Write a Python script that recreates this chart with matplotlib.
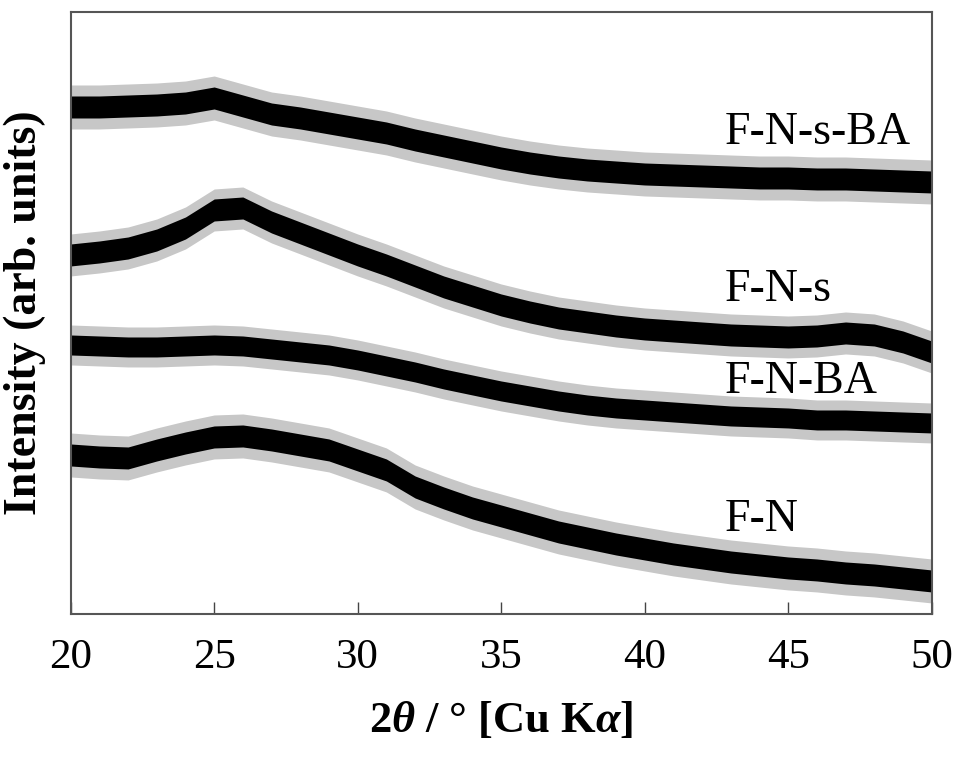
import numpy as np
from matplotlib import pyplot as plt

plt.rcParams['font.family'] = ['Liberation Serif', 'DejaVu Serif']
plt.rcParams['mathtext.fontset'] = 'custom'
plt.rcParams['mathtext.rm'] = 'Liberation Serif:bold'
plt.rcParams['mathtext.it'] = 'Liberation Serif:italic:bold'
plt.rcParams['mathtext.bf'] = 'Liberation Serif:bold'

two_theta = list(range(20, 51))

# mean intensity of each trace (arb. units, offset stacked)
fn_s_ba = [507, 507, 508, 509, 511, 516, 508, 500, 496, 491, 486, 481, 474, 468, 462, 456,
           451, 447, 444, 442, 440, 439, 438, 437, 436, 436, 435, 435, 434, 433, 432]
fn_s = [359, 362, 366, 374, 386, 404, 406, 392, 381, 370, 359, 349, 338, 327, 318, 309,
        302, 296, 292, 288, 285, 283, 281, 279, 278, 277, 278, 281, 279, 272, 262]
fn_ba = [269, 268, 267, 267, 268, 269, 268, 265, 262, 259, 254, 248, 242, 235, 229, 223,
         218, 213, 209, 206, 204, 202, 200, 198, 197, 196, 194, 194, 193, 192, 191]
fn = [159, 157, 156, 164, 171, 177, 178, 174, 169, 164, 154, 144, 127, 116, 106, 98,
      90, 82, 76, 70, 65, 60, 56, 52, 49, 46, 44, 41, 39, 36, 33]

series = [fn_s_ba, fn_s, fn_ba, fn]
labels = ['F-N-s-BA', 'F-N-s', 'F-N-BA', 'F-N']
label_y = [481, 324, 232, 94]

# half width of the noise band: dense core and spike range
noise_core = [11, 11, 10, 11]
noise_spike = [22, 21, 20, 22]

fig = plt.figure(figsize=(9.59, 7.69), dpi=100, facecolor='white')
ax = fig.add_axes([0.0737, 0.2016, 0.8978, 0.7828])

x = np.array(two_theta, dtype=float)
for vals, core, spike in zip(series, noise_core, noise_spike):
    y = np.array(vals, dtype=float)
    ax.fill_between(x, y - spike, y + spike, color='black', alpha=0.22, lw=0)
    ax.fill_between(x, y - core, y + core, color='black', lw=0)
    ax.plot(x, y, color='black', lw=1)

for name, ly in zip(labels, label_y):
    ax.text(42.8, ly, name, fontsize=33, va='center', ha='left')

ax.set_xlim(20, 50)
ax.set_ylim(0, 602)
ax.set_xticks(range(20, 51, 5))
ax.set_yticks([])
ax.tick_params(axis='x', direction='in', length=9, width=1, color='#444444',
               labelsize=31, pad=18)
for sp in ax.spines.values():
    sp.set_color('#555555')
    sp.set_linewidth(1.5)

ax.set_xlabel(r'2$\theta$ / ° [Cu K$\alpha$]', fontsize=32, fontweight='bold', labelpad=16)
ax.set_ylabel('Intensity (arb. units)', fontsize=33, fontweight='bold', labelpad=18)

fig.savefig('out.png', dpi=100)
